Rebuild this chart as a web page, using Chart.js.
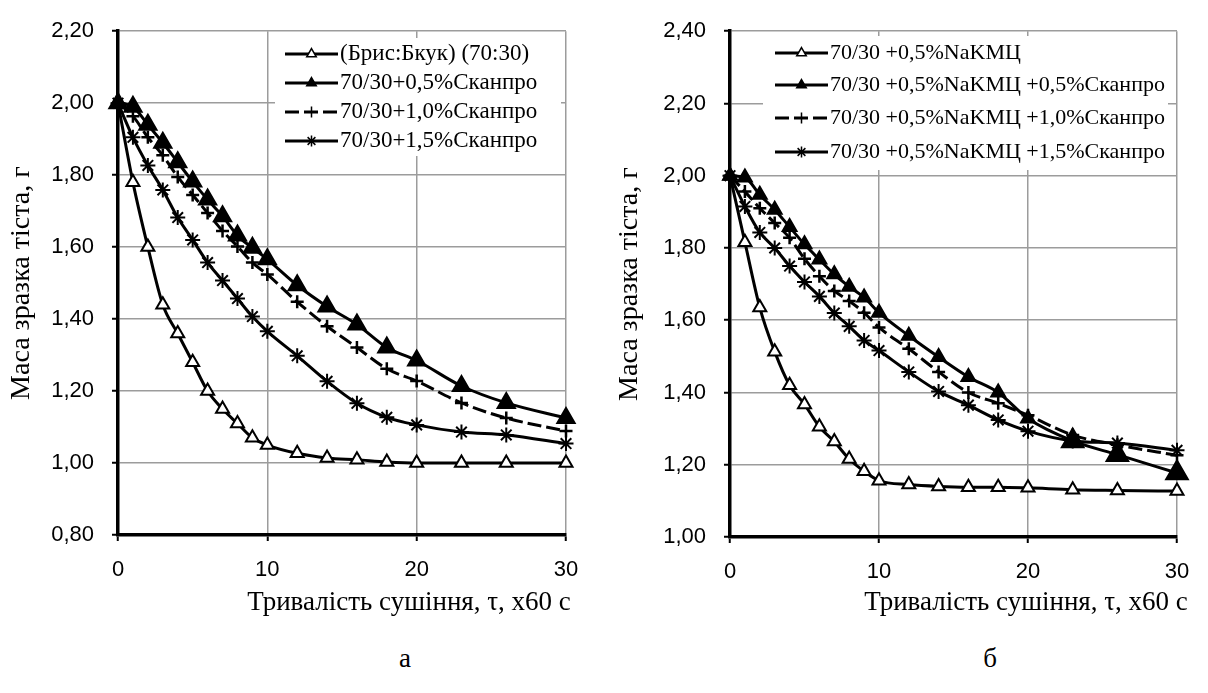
<!doctype html>
<html>
<head>
<meta charset="utf-8">
<title>Маса зразка тіста</title>
<script src="https://cdn.jsdelivr.net/npm/chart.js@4"></script>
<style>
  body { margin: 0; background: #fff; width: 1208px; height: 693px; position: relative; overflow: hidden; font-family: 'Liberation Serif', 'Times New Roman', serif; }
  .box { position: absolute; top: 0; }
  .lbl { position: absolute; font-size: 27px; color: #000; white-space: nowrap; transform: translate(-50%, -50%); }
</style>
</head>
<body>
<div class="box" style="left:0"><canvas id="ca" width="600" height="640"></canvas></div>
<div class="box" style="left:600px"><canvas id="cb" width="608" height="640"></canvas></div>
<div class="lbl" style="left:409px;top:601px">Тривалість сушіння, τ, х60 с</div>
<div class="lbl" style="left:1026px;top:601px">Тривалість сушіння, τ, х60 с</div>
<div class="lbl" style="left:405px;top:658px">а</div>
<div class="lbl" style="left:990px;top:658px">б</div>
<script>
// час сушіння, хв (x60 с)
const minutes = [0, 1, 2, 3, 4, 5, 6, 7, 8, 9, 10, 12, 14, 16, 18, 20, 23, 26, 30]

// а) Брис:Бкук 70:30 + Сканпро
const labelsA = ['(Брис:Бкук) (70:30)', '70/30+0,5%Сканпро', '70/30+1,0%Сканпро', '70/30+1,5%Сканпро']
const aBase = [2.00, 1.78, 1.60, 1.44, 1.36, 1.28, 1.20, 1.15, 1.11, 1.07, 1.05, 1.027, 1.014, 1.009, 1.003, 1.00, 1.00, 1.00, 1.00]
const aSk05 = [2.00, 1.99, 1.94, 1.89, 1.836, 1.782, 1.732, 1.686, 1.632, 1.598, 1.566, 1.494, 1.435, 1.385, 1.321, 1.285, 1.214, 1.167, 1.125]
const aSk10 = [2.00, 1.964, 1.905, 1.855, 1.795, 1.745, 1.695, 1.645, 1.602, 1.557, 1.524, 1.448, 1.38, 1.321, 1.262, 1.228, 1.167, 1.125, 1.089]
const aSk15 = [2.00, 1.905, 1.827, 1.759, 1.682, 1.62, 1.557, 1.507, 1.457, 1.407, 1.366, 1.298, 1.227, 1.166, 1.127, 1.106, 1.086, 1.078, 1.054]

// б) 70/30 + 0,5% NaKMЦ + Сканпро
const labelsB = ['70/30 +0,5%NaKMЦ', '70/30 +0,5%NaKMЦ +0,5%Сканпро', '70/30 +0,5%NaKMЦ +1,0%Сканпро', '70/30 +0,5%NaKMЦ +1,5%Сканпро']
const bBase = [2.00, 1.816, 1.635, 1.513, 1.42, 1.367, 1.305, 1.264, 1.216, 1.182, 1.156, 1.145, 1.14, 1.138, 1.138, 1.136, 1.131, 1.129, 1.127]
const bSk05 = [2.00, 1.995, 1.947, 1.906, 1.858, 1.81, 1.768, 1.727, 1.693, 1.663, 1.621, 1.557, 1.498, 1.443, 1.40, 1.328, 1.266, 1.228, 1.177]
const bSk10 = [2.00, 1.956, 1.91, 1.869, 1.828, 1.77, 1.722, 1.681, 1.653, 1.621, 1.58, 1.521, 1.457, 1.40, 1.37, 1.337, 1.282, 1.255, 1.226]
const bSk15 = [2.00, 1.915, 1.843, 1.80, 1.75, 1.706, 1.666, 1.62, 1.583, 1.544, 1.516, 1.457, 1.403, 1.365, 1.324, 1.293, 1.266, 1.26, 1.24]

const yTitle = 'Маса зразка тіста, г'
const fmt = (v) => v.toFixed(2).replace('.', ',')

// легенда всередині поля графіка (як в Excel)
const boxLegend = {
  id: 'boxLegend',
  afterDraw(chart, args, o) {
    const { ctx } = chart
    ctx.save()
    ctx.fillStyle = '#fff'
    ctx.fillRect(o.x, o.y, o.w, o.h)
    ctx.font = o.font
    ctx.textBaseline = 'middle'
    chart.data.datasets.forEach((ds, i) => {
      const y = o.rows[i]
      ctx.strokeStyle = '#000'
      ctx.lineWidth = 3
      ctx.setLineDash(ds.borderDash || [])
      ctx.beginPath()
      ctx.moveTo(o.x0, y)
      ctx.lineTo(o.x1, y)
      ctx.stroke()
      ctx.setLineDash([])
      ctx.fillStyle = ds.pointBackgroundColor
      ctx.lineWidth = 1.5
      Chart.helpers.drawPoint(ctx, { pointStyle: ds.pointStyle, radius: o.r, borderWidth: 1.5, rotation: 0 }, (o.x0 + o.x1) / 2, y)
      ctx.fillStyle = '#000'
      ctx.fillText(ds.label, o.tx, y)
    })
    ctx.restore()
  }
}

function series(label, xs, ys, style, extra) {
  return Object.assign({
    label,
    data: xs.map((x, i) => ({ x, y: ys[i] })),
    borderColor: '#000',
    borderWidth: 3,
    pointStyle: style,
    pointBorderColor: '#000',
    pointBackgroundColor: '#000',
    pointBorderWidth: 2,
    pointRadius: 7,
    cubicInterpolationMode: 'monotone',
    clip: false
  }, extra)
}

function makeChart(id, cfg) {
  return new Chart(document.getElementById(id), {
    type: 'line',
    data: { datasets: cfg.datasets },
    options: {
      responsive: false,
      animation: false,
      layout: { padding: { top: cfg.top, right: cfg.right, left: 0, bottom: 0 } },
      plugins: { legend: { display: false }, tooltip: { enabled: false }, boxLegend: cfg.legend },
      scales: {
        x: {
          type: 'linear', min: 0, max: 30,
          afterFit: (s) => { s.height = cfg.xh },
          border: { color: '#000', width: 3.5 },
          grid: { color: '#9c9c9c', lineWidth: 1.5, tickColor: '#000', tickLength: 6, tickWidth: 2 },
          ticks: { stepSize: 10, padding: 16, color: '#000', font: { family: 'Liberation Sans', size: 22 } }
        },
        y: {
          min: cfg.ymin, max: cfg.ymax,
          afterFit: (s) => { s.width = cfg.yw },
          border: { color: '#000', width: 3.5 },
          grid: { color: '#9c9c9c', lineWidth: 1.5, tickColor: '#000', tickLength: 6, tickWidth: 2 },
          ticks: { stepSize: 0.2, padding: 18, color: '#000', callback: fmt, font: { family: 'Liberation Sans', size: 22 } },
          title: { display: true, text: yTitle, color: '#000', padding: { top: cfg.tp, bottom: 0 }, font: { family: 'Liberation Serif', size: 28 } }
        }
      }
    },
    plugins: [boxLegend]
  })
}

makeChart('ca', {
  top: 23, right: 34, xh: 105, yw: 118, tp: 5, ymin: 0.8, ymax: 2.2,
  legend: { x: 275, y: 38, w: 286, h: 118, x0: 285, x1: 338, tx: 340, rows: [54, 83, 112, 141], r: 5.5, font: '23px "Liberation Serif"' },
  datasets: [
    series(labelsA[0], minutes, aBase, 'triangle', { pointBackgroundColor: '#fff', pointRadius: 7.5, order: 4 }),
    series(labelsA[1], minutes, aSk05, 'triangle', { pointRadius: 10, order: 3 }),
    series(labelsA[2], minutes, aSk10, 'cross', { borderDash: [14, 5], pointRadius: 6.5, pointBorderWidth: 2.5, order: 2 }),
    series(labelsA[3], minutes, aSk15, 'star', { pointRadius: 7.5, order: 1 })
  ]
})

makeChart('cb', {
  top: 27, right: 31, xh: 103, yw: 130, tp: 13, ymin: 1.0, ymax: 2.4,
  legend: { x: 163, y: 36, w: 405, h: 134, x0: 175, x1: 228, tx: 230, rows: [53, 85, 118, 152], r: 5.5, font: '22px "Liberation Serif"' },
  datasets: [
    series(labelsB[0], minutes, bBase, 'triangle', { pointBackgroundColor: '#fff', pointRadius: 7.5, order: 4 }),
    series(labelsB[1], minutes, bSk05, 'triangle', { pointRadius: (c) => (minutes[c.dataIndex] >= 23 ? 12.5 : 8), order: 3 }),
    series(labelsB[2], minutes, bSk10, 'cross', { borderDash: [14, 5], pointRadius: 6.5, pointBorderWidth: 2.5, order: 2 }),
    series(labelsB[3], minutes, bSk15, 'star', { pointRadius: 7.5, order: 1 })
  ]
})
</script>
</body>
</html>
